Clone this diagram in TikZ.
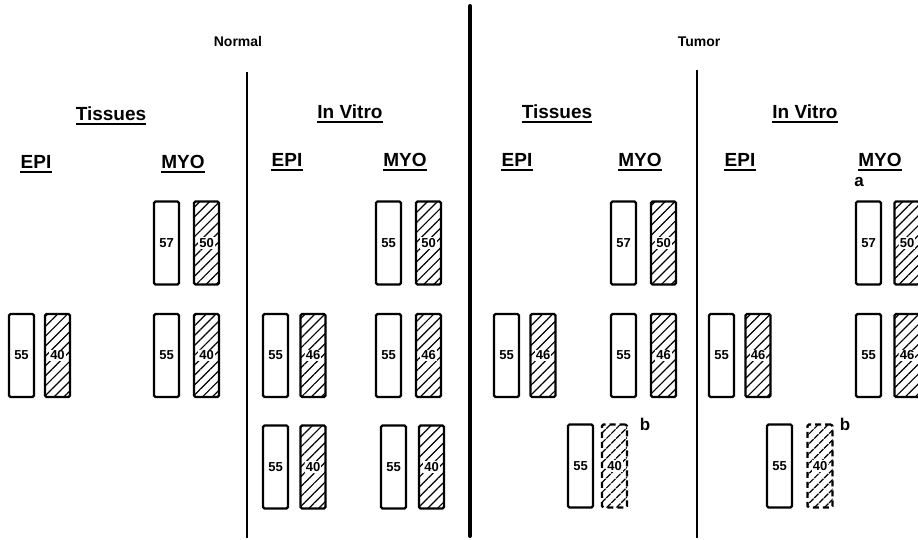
\documentclass[tikz,border=0pt]{standalone}
\usepackage{fontspec}
\setmainfont{Liberation Sans}
\usetikzlibrary{patterns.meta}
\setlength{\fboxsep}{1.2pt}
\newcommand{\hnum}[1]{\colorbox{white}{#1}}

\begin{document}
\begin{tikzpicture}[
    x=1pt, y=-1pt,
    title/.style={font=\fontsize{14}{16}\selectfont\bfseries},
    head/.style={font=\fontsize{19}{22}\selectfont\bfseries, inner sep=0pt, text depth=0pt,
        append after command={([yshift=-3pt]\tikzlastnode.south west) edge[line width=1.8pt] ([yshift=-3pt]\tikzlastnode.south east)}},
    bar/.style={draw, line width=2.4pt, rounded corners=1.5pt, minimum width=25pt, minimum height=83pt, inner sep=0pt, fill=white, font=\fontsize{13}{15}\selectfont\bfseries},
    hatch/.style={bar, pattern={Lines[angle=45, distance=7pt, line width=1.2pt]}},
    hatchdash/.style={hatch, dash pattern=on 6pt off 4pt},
    note/.style={font=\fontsize{17}{20}\selectfont\bfseries},
    divider/.style={line width=1.8pt},
    split/.style={line width=4pt, line cap=round}
]
    \useasboundingbox (0,0) rectangle (918,540);

    % Dividers
    \coordinate (splitTop) at (470,6);
    \coordinate (splitBot) at (470,536);
    \draw [split] (splitTop) -- (splitBot);
    \coordinate (nDivTop) at (247,72);
    \coordinate (nDivBot) at (247,538);
    \draw [divider] (nDivTop) -- (nDivBot);
    \coordinate (tDivTop) at (697,70);
    \coordinate (tDivBot) at (697,538);
    \draw [divider] (tDivTop) -- (tDivBot);

    % Titles
    \node [title] (normal) at (238,41) {Normal};
    \node [title] (tumor) at (699,42) {Tumor};

    % Normal: Tissues
    \node [head] (nTis) at (111,114) {Tissues};
    \node [head] (nTisEpi) at (36,162) {EPI};
    \node [head] (nTisMyo) at (183,162) {MYO};
    \node [bar] (nTisMyoA1) at (166.5,243) {57};
    \node [hatch] (nTisMyoB1) at (206.5,243) {\hnum{50}};
    \node [bar] (nTisEpiA2) at (21.5,355.5) {55};
    \node [hatch] (nTisEpiB2) at (57.5,355.5) {\hnum{40}};
    \node [bar] (nTisMyoA2) at (166.5,355.5) {55};
    \node [hatch] (nTisMyoB2) at (206.5,355.5) {\hnum{40}};

    % Normal: In Vitro
    \node [head] (nVit) at (350,112) {In Vitro};
    \node [head] (nVitEpi) at (287,160) {EPI};
    \node [head] (nVitMyo) at (405,160) {MYO};
    \node [bar] (nVitMyoA1) at (388.5,243) {55};
    \node [hatch] (nVitMyoB1) at (428.5,243) {\hnum{50}};
    \node [bar] (nVitEpiA2) at (275.5,355.5) {55};
    \node [hatch] (nVitEpiB2) at (313,355.5) {\hnum{46}};
    \node [bar] (nVitMyoA2) at (388.5,355.5) {55};
    \node [hatch] (nVitMyoB2) at (428.5,355.5) {\hnum{46}};
    \node [bar] (nVitEpiA3) at (275.5,467) {55};
    \node [hatch] (nVitEpiB3) at (313,467) {\hnum{40}};
    \node [bar] (nVitMyoA3) at (393.5,467) {55};
    \node [hatch] (nVitMyoB3) at (431.5,467) {\hnum{40}};

    % Tumor: Tissues
    \node [head] (tTis) at (557,112) {Tissues};
    \node [head] (tTisEpi) at (517,160) {EPI};
    \node [head] (tTisMyo) at (640,160) {MYO};
    \node [bar] (tTisMyoA1) at (623.5,243) {57};
    \node [hatch] (tTisMyoB1) at (663.5,243) {\hnum{50}};
    \node [bar] (tTisEpiA2) at (506.5,355.5) {55};
    \node [hatch] (tTisEpiB2) at (543,355.5) {\hnum{46}};
    \node [bar] (tTisMyoA2) at (623.5,355.5) {55};
    \node [hatch] (tTisMyoB2) at (663.5,355.5) {\hnum{46}};
    \node [bar] (tTisA3) at (580.5,466) {55};
    \node [hatchdash] (tTisB3) at (614.5,466) {\hnum{40}};
    \node [note] (tTisNoteB) at (645,424) {b};

    % Tumor: In Vitro
    \node [head] (tVit) at (805,112) {In Vitro};
    \node [head] (tVitEpi) at (740,160) {EPI};
    \node [head] (tVitMyo) at (880,160) {MYO};
    \node [note] (tVitNoteA) at (859,182) {a};
    \node [bar] (tVitMyoA1) at (868.5,243) {57};
    \node [hatch] (tVitMyoB1) at (907,243) {\hnum{50}};
    \node [bar] (tVitEpiA2) at (721.5,355.5) {55};
    \node [hatch] (tVitEpiB2) at (758,355.5) {\hnum{46}};
    \node [bar] (tVitMyoA2) at (868.5,355.5) {55};
    \node [hatch] (tVitMyoB2) at (907,355.5) {\hnum{46}};
    \node [bar] (tVitA3) at (779.5,466) {55};
    \node [hatchdash] (tVitB3) at (820,466) {\hnum{40}};
    \node [note] (tVitNoteB) at (845,424) {b};

\end{tikzpicture}
\end{document}
